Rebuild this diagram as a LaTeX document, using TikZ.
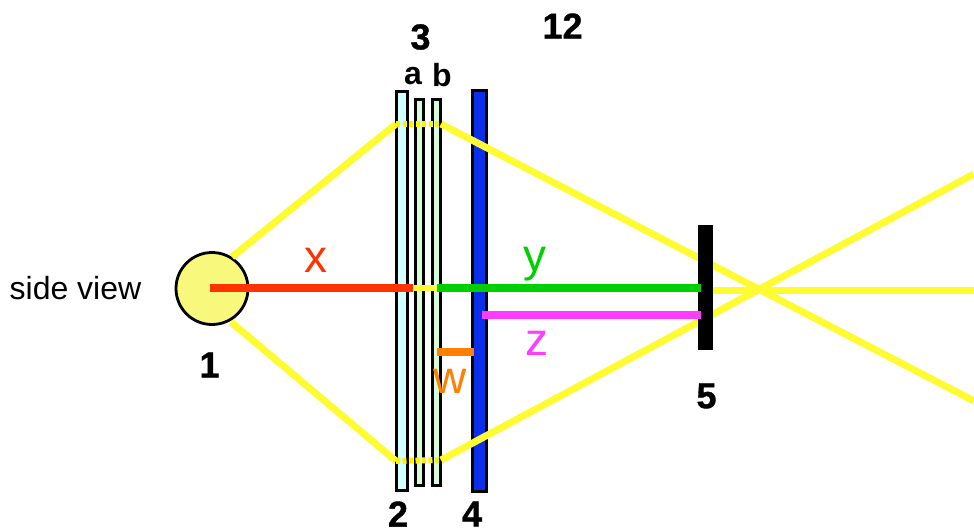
\documentclass[tikz,border=0pt]{standalone}
\usepackage{fontspec}
\setmainfont{Liberation Sans}
\newfontfamily\heavyfont{Liberation Sans}[UprightFont=* Bold, FakeBold=1]
\usepackage{xcolor}
\usepackage{tikz}
\usetikzlibrary{positioning}

\definecolor{rayyellow}{HTML}{FFFB33}
\definecolor{lampyellow}{HTML}{F8F87C}
\definecolor{platecyan}{HTML}{D2FFFF}
\definecolor{filtergreen}{HTML}{D8FBD8}
\definecolor{screenblue}{HTML}{0A2FEA}
\definecolor{xred}{HTML}{FF3300}
\definecolor{ygreen}{HTML}{00D000}
\definecolor{zmagenta}{HTML}{FF3CFF}
\definecolor{worange}{HTML}{FF8000}

\tikzset{
  ray/.style={rayyellow, line width=7pt},
  dotray/.style={yellow, line width=6pt, dash pattern=on 4pt off 2.5pt},
  plate/.style={draw=black, line width=3pt, inner sep=0pt, minimum width=#1},
  dist/.style={line width=8pt},
  numlabel/.style={font=\fontsize{36}{36}\selectfont\heavyfont, inner sep=0pt},
  sublabel/.style={font=\fontsize{32}{32}\selectfont\bfseries, inner sep=0pt},
  distlabel/.style={font=\fontsize{46}{46}\selectfont, inner sep=0pt}
}

\begin{document}
\begin{tikzpicture}[x=1pt, y=-1pt]
  \useasboundingbox (0,0) rectangle (974,532);

  % rays, lamp to plate
  \coordinate (rayA) at (232,257);
  \coordinate (rayB) at (396,124);
  \coordinate (rayC) at (231,322);
  \coordinate (rayD) at (396,461);
  \coordinate (rayE) at (441,124);
  \coordinate (rayF) at (441,460);
  \coordinate (rayG) at (974,401);
  \coordinate (rayH) at (974,174);
  \coordinate (rayI) at (706,290);
  \coordinate (rayJ) at (974,290);

  % lamp
  \node[circle, draw=black, line width=2.8pt, fill=lampyellow, inner sep=0pt, minimum size=72pt] (lamp) at (212,288.5) {};

  % plates
  \node[plate=11pt, minimum height=399pt, fill=platecyan] (plate) at (402,291) {};
  \node[plate=8pt, minimum height=386pt, fill=filtergreen] (filterA) at (419.5,292.5) {};
  \node[plate=8pt, minimum height=386pt, fill=filtergreen] (filterB) at (436,292.5) {};
  \node[plate=14pt, minimum height=400pt, fill=screenblue] (screen) at (479.5,291) {};

  % yellow rays
  \draw[ray] (rayA) -- (rayB);
  \draw[ray] (rayC) -- (rayD);
  \draw[dotray] (rayB) -- (rayE);
  \draw[dotray] (rayD) -- (rayF);
  \draw[ray] (rayE) -- (rayG);
  \draw[ray] (rayF) -- (rayH);
  \draw[ray] (rayI) -- (rayJ);

  % stop
  \node[fill=black, inner sep=0pt, minimum width=15pt, minimum height=125pt] (stop) at (705.5,287.5) {};

  % distances
  \coordinate (redA) at (210,288);
  \coordinate (redB) at (413,288);
  \coordinate (greenA) at (437,288);
  \coordinate (greenB) at (701,288);
  \coordinate (pinkA) at (482,315);
  \coordinate (pinkB) at (701,315);
  \coordinate (orangeA) at (437,352);
  \coordinate (orangeB) at (474,352);
  \draw[rayyellow, line width=6pt] (redB) -- (greenA);
  \draw[dist, xred] (redA) -- (redB);
  \draw[dist, ygreen] (greenA) -- (greenB);
  \draw[dist, zmagenta] (pinkA) -- (pinkB);
  \draw[dist, worange] (orangeA) -- (orangeB);

  % labels
  \node[font=\fontsize{32}{32}\selectfont, inner sep=0pt] (side) at (75.5,288) {side view};
  \node[numlabel] (one) at (209.5,365) {1};
  \node[numlabel] (two) at (398,514) {2};
  \node[numlabel] (three) at (420.5,37) {3};
  \node[numlabel] (four) at (472,514) {4};
  \node[numlabel] (five) at (706.5,396) {5};
  \node[numlabel] (twelve) at (562.5,26) {12};
  \node[sublabel] (suba) at (413,76) {a};
  \node[sublabel] (subb) at (442,75) {b};
  \node[distlabel, xred] (xlabel) at (316,260) {x};
  \node[distlabel, ygreen] (ylabel) at (535,264) {y};
  \node[distlabel, zmagenta] (zlabel) at (537,343) {z};
  \node[distlabel, worange] (wlabel) at (450,381) {w};
\end{tikzpicture}
\end{document}
